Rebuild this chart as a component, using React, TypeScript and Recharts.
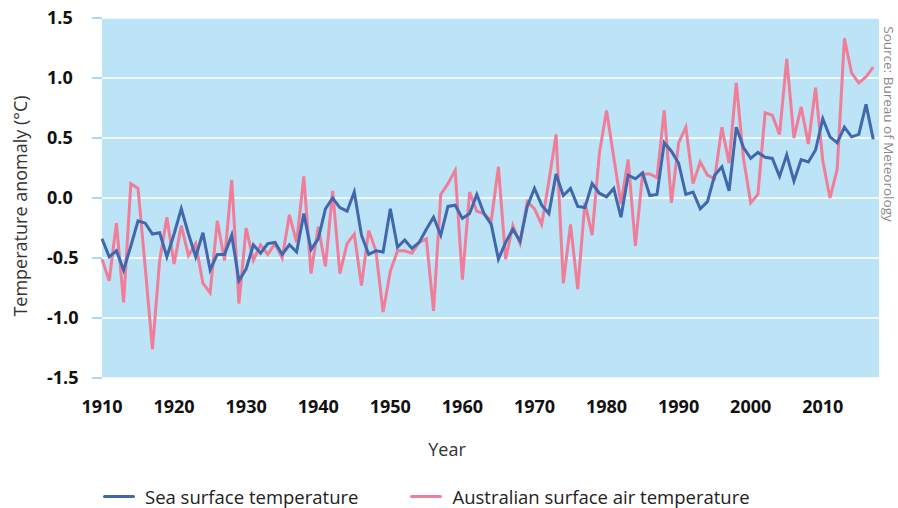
import { LineChart, Line, XAxis, YAxis, CartesianGrid, Legend, Label } from "recharts";

const FIRST_YEAR = 1910;

// sea surface temperature anomaly, 1910-2017 (°C)
const seaSurface = [
  -0.34, -0.49, -0.44, -0.6, -0.4, -0.19, -0.21, -0.3, -0.29, -0.49,
  -0.3, -0.09, -0.3, -0.49, -0.29, -0.6, -0.47, -0.47, -0.31, -0.69,
  -0.59, -0.39, -0.46, -0.38, -0.37, -0.47, -0.39, -0.45, -0.13, -0.43,
  -0.34, -0.09, 0.0, -0.08, -0.11, 0.05, -0.31, -0.47, -0.44, -0.45,
  -0.09, -0.41, -0.35, -0.42, -0.37, -0.26, -0.16, -0.31, -0.07, -0.06,
  -0.17, -0.13, 0.03, -0.13, -0.22, -0.51, -0.37, -0.26, -0.36, -0.07,
  0.08, -0.06, -0.13, 0.2, 0.02, 0.08, -0.07, -0.08, 0.12, 0.04,
  0.01, 0.08, -0.16, 0.19, 0.16, 0.21, 0.02, 0.03, 0.46, 0.39,
  0.29, 0.03, 0.05, -0.09, -0.03, 0.19, 0.26, 0.06, 0.59, 0.42,
  0.33, 0.38, 0.34, 0.33, 0.18, 0.36, 0.14, 0.32, 0.3, 0.4,
  0.66, 0.51, 0.46, 0.59, 0.51, 0.53, 0.78, 0.49,
];

// australian surface air temperature anomaly, 1910-2017 (°C)
const airSurface = [
  -0.51, -0.69, -0.21, -0.87, 0.12, 0.08, -0.58, -1.26, -0.52, -0.16,
  -0.55, -0.23, -0.48, -0.38, -0.71, -0.79, -0.19, -0.52, 0.15, -0.88,
  -0.25, -0.52, -0.39, -0.47, -0.38, -0.5, -0.14, -0.37, 0.18, -0.63,
  -0.24, -0.57, 0.06, -0.63, -0.38, -0.3, -0.73, -0.27, -0.44, -0.95,
  -0.61, -0.44, -0.44, -0.46, -0.37, -0.34, -0.94, 0.03, 0.12, 0.23,
  -0.68, 0.05, -0.11, -0.13, -0.19, 0.26, -0.51, -0.23, -0.38, -0.03,
  -0.09, -0.22, 0.14, 0.53, -0.71, -0.22, -0.76, -0.04, -0.31, 0.37,
  0.73, 0.34, -0.05, 0.32, -0.4, 0.2, 0.2, 0.17, 0.73, -0.04,
  0.46, 0.59, 0.12, 0.3, 0.19, 0.16, 0.59, 0.29, 0.96, 0.33,
  -0.04, 0.03, 0.71, 0.69, 0.53, 1.16, 0.5, 0.76, 0.45, 0.92,
  0.31, 0.0, 0.24, 1.33, 1.04, 0.96, 1.01, 1.09,
];

const years = seaSurface.map((_, i) => FIRST_YEAR + i);
const xTicks = [1910, 1920, 1930, 1940, 1950, 1960, 1970, 1980, 1990, 2000, 2010];
const yTicks = [-1.5, -1.0, -0.5, 0.0, 0.5, 1.0, 1.5];

const series = [
  { key: "sea", name: "Sea surface temperature", color: "#4167ad" },
  { key: "air", name: "Australian surface air temperature", color: "#f07e98" },
];

const data = years.map((year, i) => ({ year, sea: seaSurface[i], air: airSurface[i] }));

const FONT = "'Open Sans', sans-serif";

function LegendContent() {
  return (
    <div style={{ display: "flex", alignItems: "center", fontFamily: FONT, fontSize: 18.5, color: "#222", whiteSpace: "nowrap" }}>
      {series.map((s, i) => (
        <div key={s.key} style={{ display: "flex", alignItems: "center", marginRight: i === 0 ? 52 : 0 }}>
          <span style={{ display: "inline-block", width: 32, height: 3, borderRadius: 2, background: s.color, marginRight: 10 }} />
          <span>{s.name}</span>
        </div>
      ))}
    </div>
  );
}

export default function App() {
  return (
    <div style={{ position: "absolute", left: 0, top: 0, background: "#fff" }}>
      <LineChart width={898} height={508} data={data} margin={{ top: 18, right: 19, bottom: 100, left: 0 }}>
        <CartesianGrid vertical={false} stroke="#ffffff" strokeWidth={1.5} fill="#bde3f6" fillOpacity={1} />
        <XAxis
          dataKey="year"
          type="number"
          height={30}
          domain={[1910, 2017.8]}
          ticks={xTicks}
          axisLine={false}
          tickLine={false}
          tickSize={0}
          tickMargin={22}
          tick={{ fontSize: 18, fontWeight: 700, fill: "#111", fontFamily: FONT }}
        >
          <Label
            content={() => (
              <text x={447} y={449} textAnchor="middle" dominantBaseline="central" fontSize={18} fill="#333" fontFamily={FONT}>
                Year
              </text>
            )}
          />
        </XAxis>
        <YAxis
          width={102}
          domain={[-1.5, 1.5]}
          ticks={yTicks}
          axisLine={false}
          tickSize={10}
          tickMargin={45}
          tickLine={{ stroke: "#8fcbee", strokeWidth: 1.5 }}
          tickFormatter={(v: number) => v.toFixed(1)}
          tick={{ fontSize: 18, fontWeight: 700, fill: "#111", fontFamily: FONT, textAnchor: "start" }}
        >
          <Label
            content={() => (
              <text x={20} y={206} transform="rotate(-90, 20, 206)" textAnchor="middle" dominantBaseline="central" fontSize={18} fill="#333" fontFamily={FONT}>
                Temperature anomaly (°C)
              </text>
            )}
          />
          <Label
            content={() => (
              <text x={889} y={124} transform="rotate(90, 889, 124)" textAnchor="middle" dominantBaseline="central" fontSize={13.5} fill="#8a8a8a" fontFamily={FONT}>
                Source: Bureau of Meteorology
              </text>
            )}
          />
        </YAxis>
        <Legend
          layout="horizontal"
          verticalAlign="middle"
          align="center"
          content={<LegendContent />}
          wrapperStyle={{ left: 103, top: 484, width: "auto", height: 0, overflow: "visible" }}
        />
        <Line type="linear" dataKey="air" name={series[1].name} stroke={series[1].color} strokeWidth={3} dot={false} isAnimationActive={false} />
        <Line type="linear" dataKey="sea" name={series[0].name} stroke={series[0].color} strokeWidth={3} dot={false} isAnimationActive={false} />
      </LineChart>
    </div>
  );
}
